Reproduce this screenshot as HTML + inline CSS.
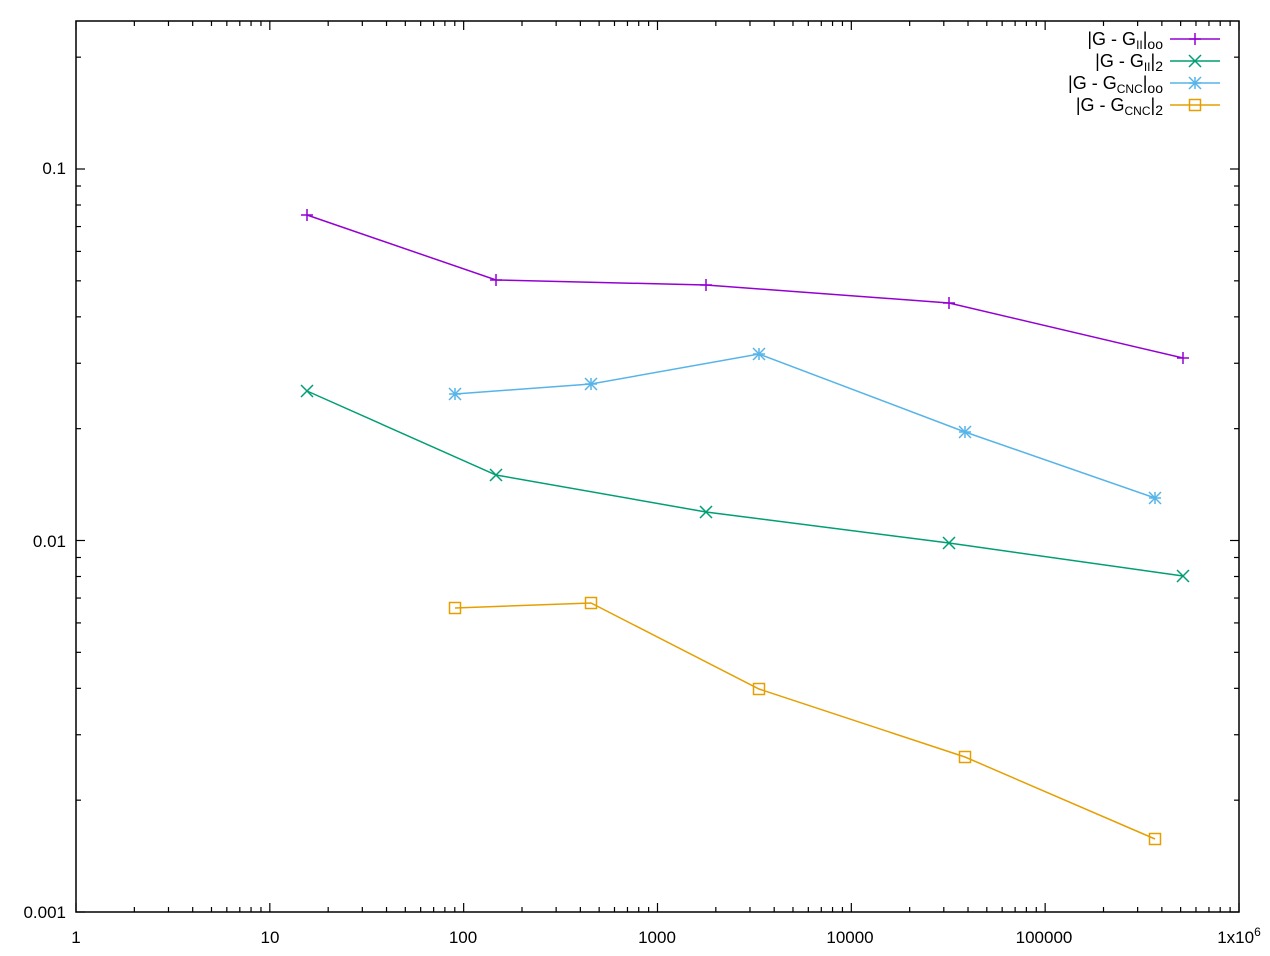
<!DOCTYPE html>
<html><head><style>body{margin:0;background:#fff}svg{display:block}text{font-family:"Liberation Sans",sans-serif;font-size:17px;fill:#000}</style></head>
<body>
<svg id="s" width="1270" height="956" xmlns="http://www.w3.org/2000/svg">
<g id="ticks" stroke="#000" stroke-width="1.2"></g>
<rect x="76" y="21" width="1163" height="891" fill="none" stroke="#000" stroke-width="1.5"/>
<g>
<text x="66" y="174" text-anchor="end">0.1</text>
<text x="66" y="547" text-anchor="end">0.01</text>
<text x="66" y="918" text-anchor="end">0.001</text>
<text x="76" y="943" text-anchor="middle">1</text>
<text x="270" y="943" text-anchor="middle">10</text>
<text x="463" y="943" text-anchor="middle">100</text>
<text x="657" y="943" text-anchor="middle">1000</text>
<text x="850" y="943" text-anchor="middle">10000</text>
<text x="1044" y="943" text-anchor="middle">100000</text>
<text x="1239" y="943" text-anchor="middle">1x10<tspan dy="-7" font-size="12">6</tspan></text>
</g>
<g fill="none" stroke-width="1.5">
<polyline stroke="#9400d3" points="307,215 496,280 706,285 949,303 1183,358"/>
<polyline stroke="#009e73" points="307,391 496,475 706,512 949,543 1183,576"/>
<polyline stroke="#56b4e9" points="455,394 591,384 759,354 965,432 1155,498"/>
<polyline stroke="#e69f00" points="455,608 591,603 759,689 965,757 1155,839"/>
<line x1="1170" y1="39" x2="1220" y2="39" stroke="#9400d3"/>
<line x1="1170" y1="61" x2="1220" y2="61" stroke="#009e73"/>
<line x1="1170" y1="83" x2="1220" y2="83" stroke="#56b4e9"/>
<line x1="1170" y1="105" x2="1220" y2="105" stroke="#e69f00"/>
</g>
<g id="marks" fill="none" stroke-width="1.5"></g>
<g text-anchor="end" style="font-size:18px">
<text x="1163" y="45" style="font-size:18px">|G - G<tspan dy="4" style="font-size:12px">II</tspan><tspan dy="-4">|</tspan><tspan dy="4" style="font-size:14px">oo</tspan></text>
<text x="1163" y="67" style="font-size:18px">|G - G<tspan dy="4" style="font-size:12px">II</tspan><tspan dy="-4">|</tspan><tspan dy="4" style="font-size:14px">2</tspan></text>
<text x="1163" y="89" style="font-size:18px">|G - G<tspan dy="4" style="font-size:12px">CNC</tspan><tspan dy="-4">|</tspan><tspan dy="4" style="font-size:14px">oo</tspan></text>
<text x="1163" y="111" style="font-size:18px">|G - G<tspan dy="4" style="font-size:12px">CNC</tspan><tspan dy="-4">|</tspan><tspan dy="4" style="font-size:14px">2</tspan></text>
</g>
</svg>
<script>
var NS="http://www.w3.org/2000/svg";
function L(g,x1,y1,x2,y2,c){var l=document.createElementNS(NS,"line");l.setAttribute("x1",x1);l.setAttribute("y1",y1);l.setAttribute("x2",x2);l.setAttribute("y2",y2);if(c)l.setAttribute("stroke",c);g.appendChild(l);}
var t=document.getElementById("ticks");
var X0=76,XD=193.83,Yb=912,YD=371.5;
for(var d=0;d<6;d++)for(var k=1;k<10;k++){var x=X0+XD*(d+Math.log10(k));var len=k==1?9:5;L(t,x,912,x,912-len);L(t,x,21,x,21+len);}
L(t,1239,912,1239,903);L(t,1239,21,1239,30);
for(var d=0;d<3;d++)for(var k=1;k<10;k++){var y=Yb-YD*(d+Math.log10(k));if(y<21)continue;var len=k==1?9:5;L(t,76,y,76+len,y);L(t,1239,y,1239-len,y);}
var m=document.getElementById("marks");
function plus(x,y,c){L(m,x-6,y,x+6,y,c);L(m,x,y-6,x,y+6,c);}
function cross(x,y,c){L(m,x-6,y-6,x+6,y+6,c);L(m,x-6,y+6,x+6,y-6,c);}
function star(x,y,c){plus(x,y,c);cross(x,y,c);}
function sq(x,y,c){var r=document.createElementNS(NS,"rect");r.setAttribute("x",x-5.5);r.setAttribute("y",y-5.5);r.setAttribute("width",11);r.setAttribute("height",11);r.setAttribute("stroke",c);m.appendChild(r);}
[[307,215],[496,280],[706,285],[949,303],[1183,358],[1195,39]].forEach(p=>plus(p[0],p[1],"#9400d3"));
[[307,391],[496,475],[706,512],[949,543],[1183,576],[1195,61]].forEach(p=>cross(p[0],p[1],"#009e73"));
[[455,394],[591,384],[759,354],[965,432],[1155,498],[1195,83]].forEach(p=>star(p[0],p[1],"#56b4e9"));
[[455,608],[591,603],[759,689],[965,757],[1155,839],[1195,105]].forEach(p=>sq(p[0],p[1],"#e69f00"));
</script>
</body></html>
